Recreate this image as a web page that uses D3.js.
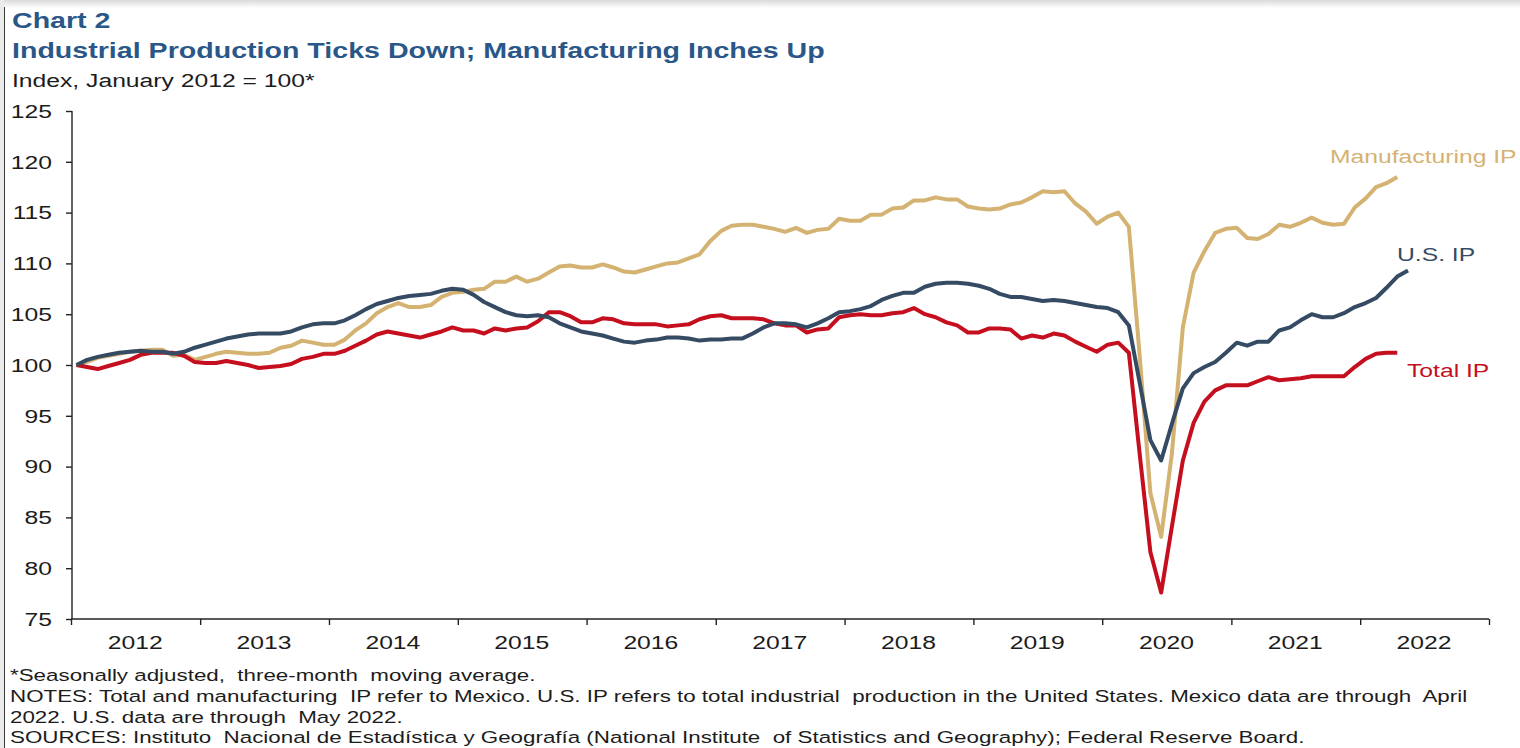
<!DOCTYPE html>
<html>
<head>
<meta charset="utf-8">
<script src="https://cdn.jsdelivr.net/npm/d3@7"></script>
<style>
  html, body { margin: 0; padding: 0; background: #ffffff; }
  svg text { font-family: "Liberation Sans", Arial, Helvetica, sans-serif; white-space: pre; }
</style>
</head>
<body>
<svg id="chart" width="1520" height="748"></svg>
<script>
// Year labels along the bottom axis and the y-axis ticks
const yearLabels = ["2012", "2013", "2014", "2015", "2016", "2017", "2018", "2019", "2020", "2021", "2022"];
const yTicks = [75, 80, 85, 90, 95, 100, 105, 110, 115, 120, 125];

// Monthly index values, January 2012 = 100 (three-month moving average)
// Mexico manufacturing IP, Jan 2012 – Apr 2022
const manufacturingIP = [
  100.0, 100.3, 100.7, 100.9, 101.1, 101.3, 101.4, 101.5, 101.5, 100.9, 101.0, 100.5,
  100.8, 101.1, 101.3, 101.2, 101.1, 101.1, 101.2, 101.7, 101.9, 102.4, 102.2, 102.0,
  102.0, 102.5, 103.4, 104.1, 105.1, 105.7, 106.1, 105.7, 105.7, 105.9, 106.7, 107.1,
  107.2, 107.4, 107.5, 108.2, 108.2, 108.7, 108.2, 108.5, 109.1, 109.7, 109.8, 109.6,
  109.6, 109.9, 109.6, 109.2, 109.1, 109.4, 109.7, 110.0, 110.1, 110.5, 110.9, 112.2,
  113.2, 113.7, 113.8, 113.8, 113.6, 113.4, 113.1, 113.5, 113.0, 113.3, 113.4, 114.4,
  114.2, 114.2, 114.8, 114.8, 115.4, 115.5, 116.2, 116.2, 116.5, 116.3, 116.3, 115.6,
  115.4, 115.3, 115.4, 115.8, 116.0, 116.5, 117.1, 117.0, 117.1, 115.9, 115.1, 113.9,
  114.6, 115.0, 113.6, 101.0, 87.4, 83.1, 91.3, 103.7, 109.1, 111.2, 113.0, 113.4,
  113.5, 112.5, 112.4, 112.9, 113.8, 113.6, 114.0, 114.5, 114.0, 113.8, 113.9, 115.5,
  116.4, 117.5, 117.9, 118.5
];

// U.S. total industrial production, Jan 2012 – May 2022
const usIP = [
  100.0, 100.5, 100.8, 101.0, 101.2, 101.3, 101.4, 101.3, 101.3, 101.1, 101.3, 101.7,
  102.0, 102.3, 102.6, 102.8, 103.0, 103.1, 103.1, 103.1, 103.3, 103.7, 104.0, 104.1,
  104.1, 104.4, 104.9, 105.5, 106.0, 106.3, 106.6, 106.8, 106.9, 107.0, 107.3, 107.5,
  107.4, 106.9, 106.2, 105.7, 105.2, 104.9, 104.8, 104.9, 104.7, 104.1, 103.7, 103.3,
  103.1, 102.9, 102.6, 102.3, 102.2, 102.4, 102.5, 102.7, 102.7, 102.6, 102.4, 102.5,
  102.5, 102.6, 102.6, 103.1, 103.7, 104.1, 104.1, 104.0, 103.7, 104.1, 104.6, 105.2,
  105.3, 105.5, 105.8, 106.4, 106.8, 107.1, 107.1, 107.7, 108.0, 108.1, 108.1, 108.0,
  107.8, 107.5, 107.0, 106.7, 106.7, 106.5, 106.3, 106.4, 106.3, 106.1, 105.9, 105.7,
  105.6, 105.2, 103.9, 98.3, 92.6, 90.6, 94.2, 97.7, 99.2, 99.8, 100.3, 101.2,
  102.2, 101.9, 102.3, 102.3, 103.4, 103.7, 104.4, 105.0, 104.7, 104.7, 105.1, 105.7,
  106.1, 106.6, 107.6, 108.7, 109.3
];

// Mexico total IP, Jan 2012 – Apr 2022
const totalIP = [
  100.0, 99.8, 99.6, 99.9, 100.2, 100.5, 101.0, 101.2, 101.2, 101.2, 100.9, 100.3,
  100.2, 100.2, 100.4, 100.2, 100.0, 99.7, 99.8, 99.9, 100.1, 100.6, 100.8, 101.1,
  101.1, 101.4, 101.9, 102.4, 103.0, 103.3, 103.1, 102.9, 102.7, 103.0, 103.3, 103.7,
  103.4, 103.4, 103.1, 103.6, 103.4, 103.6, 103.7, 104.3, 105.2, 105.2, 104.8, 104.2,
  104.2, 104.6, 104.5, 104.1, 104.0, 104.0, 104.0, 103.8, 103.9, 104.0, 104.5, 104.8,
  104.9, 104.6, 104.6, 104.6, 104.5, 104.1, 103.9, 103.9, 103.2, 103.5, 103.6, 104.7,
  104.9, 105.0, 104.9, 104.9, 105.1, 105.2, 105.6, 105.0, 104.7, 104.2, 103.9, 103.2,
  103.2, 103.6, 103.6, 103.5, 102.6, 102.9, 102.7, 103.1, 102.9, 102.3, 101.8, 101.3,
  102.0, 102.2, 101.2, 91.3, 81.6, 77.6, 84.1, 90.6, 94.3, 96.4, 97.5, 98.0,
  98.0, 98.0, 98.4, 98.8, 98.5, 98.6, 98.7, 98.9, 98.9, 98.9, 98.9, 99.8,
  100.6, 101.1, 101.2, 101.2
];

const seriesColors = { manufacturing: "#d4b272", us: "#344b63", total: "#c50f1e" };
const titleColor = "#2a5788";
const inkColor = "#1c1c1c";
const stretch = 1.3; // horizontal glyph stretch used throughout the chart's lettering

const svg = d3.select("#chart");

// Page edge: soft grey band along the top and a thin rule down the left side
const defs = svg.append("defs");
const topShade = defs.append("linearGradient").attr("id", "topShade").attr("x1", 0).attr("y1", 0).attr("x2", 0).attr("y2", 1);
topShade.append("stop").attr("offset", "0%").attr("stop-color", "#d9d9d9");
topShade.append("stop").attr("offset", "100%").attr("stop-color", "#ffffff");
svg.append("rect").attr("x", 0).attr("y", 0).attr("width", 1520).attr("height", 8).attr("fill", "url(#topShade)");
svg.append("rect").attr("x", 0).attr("y", 0).attr("width", 4).attr("height", 748).attr("fill", "#ebebeb");
svg.append("line").attr("x1", 4.5).attr("x2", 4.5).attr("y1", 7).attr("y2", 748)
  .attr("stroke", "#3a3a3a").attr("stroke-width", 1);

// Plot frame
const plot = { left: 72, right: 1489, top: 111, bottom: 619 };

const x = d3.scaleTime()
  .domain([new Date(2012, 0, 1), new Date(2023, 0, 1)])
  .range([71, plot.right]);

const y = d3.scaleLinear()
  .domain([75, 125])
  .range([plot.bottom, plot.top]);

// each monthly observation is placed at the middle of its month
const monthDate = i => {
  const start = new Date(2012, i, 1);
  const end = new Date(2012, i + 1, 1);
  return new Date((start.getTime() + end.getTime()) / 2);
};
const toPoints = arr => arr.map((v, i) => ({ date: monthDate(i), value: v }));

// text helper: stretched lettering anchored at (px, py)
function label(g, px, py, str, opts = {}) {
  const t = g.append("text")
    .attr("transform", `translate(${px},${py}) scale(${opts.stretch || stretch},1)`)
    .attr("font-size", opts.size || 19)
    .attr("font-weight", opts.weight || "normal")
    .attr("fill", opts.fill || inkColor)
    .attr("text-anchor", opts.anchor || "start")
    .text(str);
  if (opts.dy) t.attr("dy", opts.dy);
  return t;
}

// Titles
const head = svg.append("g");
label(head, 12, 28, "Chart 2", { size: 22, weight: "bold", fill: titleColor });
label(head, 12, 58, "Industrial Production Ticks Down; Manufacturing Inches Up", { size: 22, weight: "bold", fill: titleColor });
label(head, 12, 87, "Index, January 2012 = 100*", { size: 19 });

// Y axis
const yAxis = svg.append("g").attr("transform", `translate(${plot.left},0)`);
yAxis.call(d3.axisLeft(y).tickValues(yTicks).tickSize(6).tickFormat(() => ""));
yAxis.select(".domain").attr("stroke", "#222").attr("stroke-width", 1.4).attr("d", `M0,${plot.top}V${plot.bottom}`);
yAxis.selectAll(".tick line").attr("stroke", "#222").attr("stroke-width", 1.4);
const yLab = svg.append("g");
yTicks.forEach(t => label(yLab, 52, y(t), String(t), { anchor: "end", dy: "0.36em" }));

// X axis: ticks at each year boundary, labels centred within the year
const yearStarts = d3.range(2012, 2024).map(yr => new Date(yr, 0, 1));
const xAxis = svg.append("g").attr("transform", `translate(0,${plot.bottom})`);
xAxis.call(d3.axisBottom(x).tickValues(yearStarts).tickSize(6).tickFormat(() => ""));
xAxis.select(".domain").attr("stroke", "#222").attr("stroke-width", 1.6).attr("d", `M${x(yearStarts[0])},0H${x(yearStarts[yearStarts.length - 1])}`);
xAxis.selectAll(".tick line").attr("stroke", "#222").attr("stroke-width", 1.4);
const xLab = svg.append("g");
yearLabels.forEach(yr => {
  const mid = new Date(+yr, 6, 1);
  label(xLab, x(mid), 649, yr, { anchor: "middle" });
});

// Lines
const line = d3.line()
  .x(d => x(d.date))
  .y(d => y(d.value));

const lines = svg.append("g")
  .attr("fill", "none")
  .attr("stroke-width", 4)
  .attr("stroke-linejoin", "round")
  .attr("stroke-linecap", "butt");

lines.append("path").datum(toPoints(manufacturingIP)).attr("stroke", seriesColors.manufacturing).attr("d", line);
lines.append("path").datum(toPoints(totalIP)).attr("stroke", seriesColors.total).attr("d", line);
lines.append("path").datum(toPoints(usIP)).attr("stroke", seriesColors.us).attr("d", line);

// Series labels
const seriesLab = svg.append("g");
label(seriesLab, 1330, 163, "Manufacturing IP", { fill: seriesColors.manufacturing });
label(seriesLab, 1397, 261, "U.S. IP", { fill: seriesColors.us });
label(seriesLab, 1407, 377, "Total IP", { fill: seriesColors.total });

// Footnotes
const foot = svg.append("g");
const footSize = 17.2;
label(foot, 10, 681, "*Seasonally adjusted,  three-month  moving average.", { size: footSize });
label(foot, 10, 702, "NOTES: Total and manufacturing  IP refer to Mexico. U.S. IP refers to total industrial  production in the United States. Mexico data are through  April", { size: footSize });
label(foot, 10, 723, "2022. U.S. data are through  May 2022.", { size: footSize });
label(foot, 10, 743, "SOURCES: Instituto  Nacional de Estadística y Geografía (National Institute  of Statistics and Geography); Federal Reserve Board.", { size: footSize });
</script>
</body>
</html>
